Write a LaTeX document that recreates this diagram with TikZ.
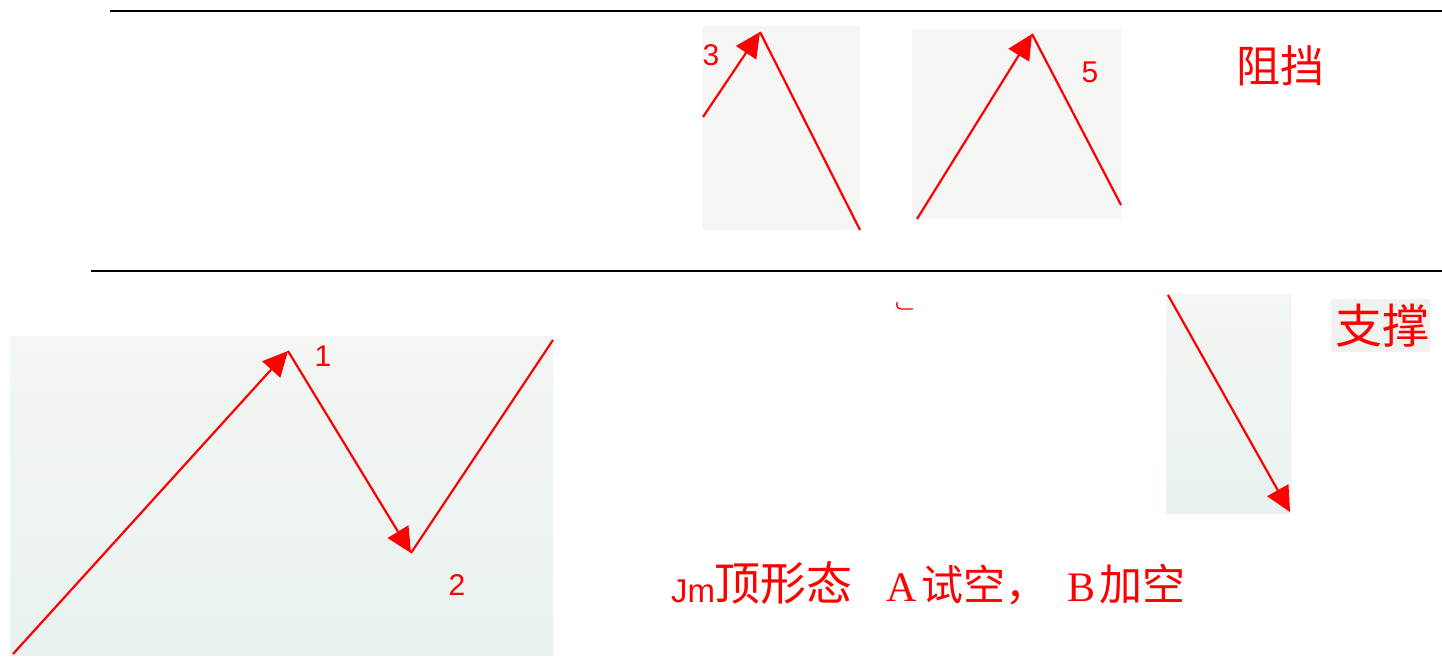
\documentclass[tikz,border=0pt]{standalone}
\usepackage{fontspec}
\setmainfont{Liberation Serif}
\setsansfont{Liberation Sans}
\newfontfamily\cjk{Noto Sans CJK SC}
\usetikzlibrary{arrows.meta}
\definecolor{panelflat}{RGB}{246,247,245}
\definecolor{paneltop}{RGB}{243,246,243}
\definecolor{panelbot}{RGB}{233,242,240}
\definecolor{labelbg}{RGB}{240,242,240}
\definecolor{tred}{RGB}{255,0,0}
\begin{document}
\begin{tikzpicture}[x=1pt,y=-1pt,
  rule/.style={line width=2pt,black},
  trace/.style={tred,line width=2.2pt,line join=round},
  tipped/.style={-{Triangle[length=25pt,width=24pt]}},
  num/.style={text=tred,inner sep=0pt,font=\sffamily\fontsize{30}{30}\selectfont},
  cjklabel/.style={text=tred,inner sep=0pt,font=\cjk\fontsize{44}{44}\selectfont},
  bottomtext/.style={text=tred,inner sep=0pt,anchor=base west}]
\useasboundingbox (0,0) rectangle (1442,658);
\fill[white] (0,0) rectangle (1442,658);
% horizontal rules
\coordinate (r1a) at (110,11); \coordinate (r1b) at (1442,11);
\coordinate (r2a) at (91,271); \coordinate (r2b) at (1442,271);
\draw[rule] (r1a) -- (r1b);
\draw[rule] (r2a) -- (r2b);
% panels
\fill[panelflat] (702,26) rectangle (860,230);
\fill[panelflat] (912,29) rectangle (1121,219);
\shade[top color=paneltop,bottom color=panelbot] (10,336) rectangle (553,655);
\shade[top color=paneltop,bottom color=panelbot] (1166,294) rectangle (1291,513);
\fill[labelbg] (1331,299) rectangle (1430,352);
% panel 1 trace
\coordinate (a0) at (703,117); \coordinate (a1) at (760,32); \coordinate (a2) at (860,230);
\draw[trace] (a1) -- (a2);
\draw[trace,tipped] (a0) -- (a1);
\node[num] (n3) at (711,55) {3};
% panel 2 trace
\coordinate (b0) at (917,219); \coordinate (b1) at (1032,34); \coordinate (b2) at (1121,205);
\draw[trace] (b1) -- (b2);
\draw[trace,tipped] (b0) -- (b1);
\node[num] (n5) at (1090,72) {5};
% panel 3 trace
\coordinate (c0) at (13,654); \coordinate (c1) at (288,351); \coordinate (c2) at (411,553); \coordinate (c3) at (553,340);
\draw[trace] (c2) -- (c3);
\draw[trace,tipped] (c0) -- (c1);
\draw[trace,tipped] (c1) -- (c2);
\node[num] (n1) at (323,356) {1};
\node[num] (n2) at (457,585) {2};
% panel 4 trace
\coordinate (d0) at (1168,295); \coordinate (d1) at (1290,512);
\draw[trace,tipped] (d0) -- (d1);
% small mark
\coordinate (m0) at (897,302); \coordinate (m1) at (913,309);
\draw[tred,line width=1.3pt] (m0) .. controls (896,307) and (898,309) .. (902,309) -- (m1);
% labels
\node[cjklabel] (zudang) at (1280,66) {阻挡};
\node[cjklabel,font=\cjk\fontsize{47}{47}\selectfont] (zhicheng) at (1382,326) {支撑};
% bottom text
\node[bottomtext,font=\sffamily\fontsize{33}{33}\selectfont] (jm) at (671,602) {Jm};
\node[bottomtext,font=\cjk\fontsize{46}{46}\selectfont] (shape) at (714,600) {顶形态};
\node[bottomtext,font=\rmfamily\fontsize{42}{42}\selectfont] (la) at (886,601) {A};
\node[bottomtext,font=\cjk\fontsize{42}{42}\selectfont] (shi) at (921,600) {试空，};
\node[bottomtext,font=\rmfamily\fontsize{42}{42}\selectfont] (lb) at (1067,601) {B};
\node[bottomtext,font=\cjk\fontsize{43}{43}\selectfont] (jia) at (1099,600) {加空};
\end{tikzpicture}
\end{document}
